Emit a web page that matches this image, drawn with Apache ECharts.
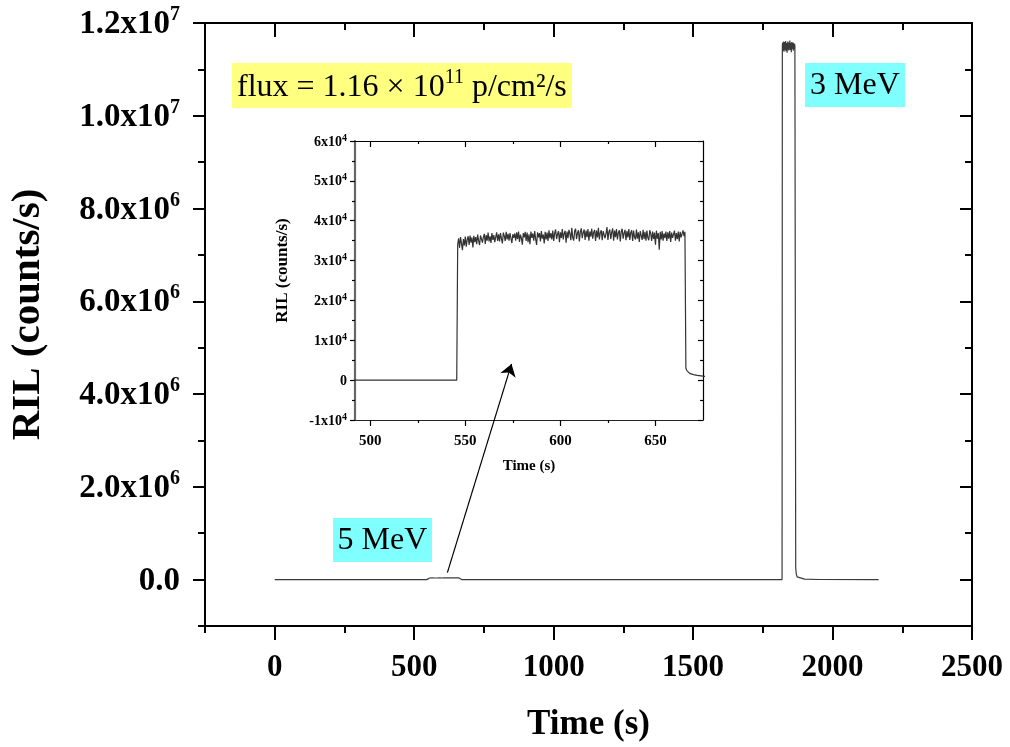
<!DOCTYPE html>
<html>
<head>
<meta charset="utf-8">
<script src="https://cdn.jsdelivr.net/npm/echarts@6/dist/echarts.min.js"></script>
<style>
html,body{margin:0;padding:0;background:#fff;}
#chart{width:1010px;height:747px;}
</style>
</head>
<body>
<div id="chart"></div>
<script>
// ---------- tick values & labels ----------
const mainXMajor = [0, 500, 1000, 1500, 2000, 2500];
const mainXMinor = [-250, 250, 750, 1250, 1750, 2250];
const mainYMajor = [0, 2e6, 4e6, 6e6, 8e6, 1e7, 1.2e7];
const mainYMinor = [-1e6, 1e6, 3e6, 5e6, 7e6, 9e6, 1.1e7];
const mainYLabels = [['0.0', ''], ['2.0x10', '6'], ['4.0x10', '6'], ['6.0x10', '6'], ['8.0x10', '6'], ['1.0x10', '7'], ['1.2x10', '7']];

const insetXMajor = [500, 550, 600, 650];
const insetXMinor = [525, 575, 625];
const insetYMajor = [-1e4, 0, 1e4, 2e4, 3e4, 4e4, 5e4, 6e4];
const insetYMinor = [-5e3, 5e3, 1.5e4, 2.5e4, 3.5e4, 4.5e4, 5.5e4];
const insetYLabels = [['-1x10', '4'], ['0', ''], ['1x10', '4'], ['2x10', '4'], ['3x10', '4'], ['4x10', '4'], ['5x10', '4'], ['6x10', '4']];

// ---------- data ----------
// 5 MeV irradiation, values in 10^3 counts/s
const fiveOnTime = 545.5;          // beam on (last zero point)
const plateauStart = 546;          // first plateau sample time (s)
const plateauStep = 0.5;           // sampling step (s)
const plateauK = [
  34.0, 35.6, 33.2, 35.9, 34.3, 32.6, 35.4, 33.8, 36.0, 33.5, 35.2, 36.1, 33.9, 36.3, 34.5, 35.8, 33.3, 36.2, 34.6, 35.9,
  34.1, 36.5, 35.0, 33.9, 36.3, 36.8, 34.5, 35.9, 36.7, 34.2, 36.4, 35.0, 37.0, 34.8, 36.1, 34.4, 36.9, 35.2, 36.4, 34.6,
  35.9, 37.1, 34.9, 36.6, 34.8, 36.9, 35.5, 34.3, 37.0, 36.2, 34.9, 37.2, 35.3, 36.7, 35.0, 36.9, 35.6, 34.4, 36.6, 35.7,
  36.8, 35.0, 37.1, 35.4, 37.3, 34.7, 36.5, 35.6, 34.0, 36.9, 35.8, 37.2, 34.9, 37.0, 34.6, 36.6, 34.1, 37.3, 35.7, 36.8,
  35.0, 37.4, 35.4, 33.9, 37.1, 35.8, 36.9, 34.8, 37.4, 35.5, 36.5, 34.3, 37.2, 35.3, 37.0, 34.9, 37.6, 35.6, 36.9, 35.3,
  37.5, 34.9, 36.9, 37.8, 35.4, 36.6, 37.4, 34.6, 37.1, 35.7, 37.9, 35.3, 36.8, 37.5, 34.5, 37.3, 35.6, 37.7, 36.8, 35.1,
  38.2, 35.8, 35.0, 37.4, 38.0, 35.4, 36.9, 37.6, 34.8, 37.2, 38.1, 35.6, 37.0, 37.8, 35.2, 37.5, 35.9, 37.9, 35.0, 37.3,
  36.0, 38.0, 35.5, 37.1, 37.7, 34.9, 37.5, 35.8, 38.2, 35.3, 37.0, 37.6, 35.1, 37.4, 37.9, 35.6, 36.8, 38.4, 35.2, 37.2,
  37.8, 35.4, 37.1, 38.1, 35.0, 37.5, 35.9, 37.9, 35.3, 37.0, 37.6, 34.8, 37.3, 38.0, 35.5, 36.9, 37.7, 35.1, 37.4, 35.8,
  37.9, 35.2, 37.0, 37.6, 34.9, 37.5, 35.9, 35.3, 37.8, 35.5, 37.1, 34.7, 37.4, 36.9, 35.2, 37.7, 35.4, 37.2, 35.0, 37.5,
  35.7, 35.1, 37.6, 36.8, 34.9, 37.3, 35.4, 37.0, 34.0, 37.5, 35.5, 36.9, 32.7, 37.2, 35.3, 37.4, 35.0, 36.8, 35.6, 37.3,
  34.9, 37.1, 35.5, 37.4, 34.7, 37.0, 35.7, 35.2, 37.5, 35.0, 36.9, 35.4, 37.3, 34.8, 37.2, 35.8, 35.3, 37.6, 36.1, 37.2
];
const fiveTailTime = [666, 666.5, 667, 668, 670, 672, 675, 680, 690, 700, 720, 750];
const fiveTailK    = [3.0, 2.4, 2.0, 1.7, 1.4, 1.2, 1.0, 0.8, 0.5, 0.3, 0.1, 0];

// 3 MeV irradiation, values in 10^6 counts/s
const peakOnTime = 1819;
const peakStart = 1820;
const peakStep = 1;
const peakM = [
  11.50, 11.58, 11.40, 11.53, 11.45, 11.60, 11.38, 11.55, 11.47, 11.59, 11.42, 11.52,
  11.61, 11.39, 11.54, 11.46, 11.57, 11.36, 11.53, 11.49, 11.60, 11.43, 11.56, 11.41,
  11.58, 11.47, 11.52, 11.62, 11.42, 11.55, 11.45, 11.57, 11.37, 11.51, 11.59, 11.44,
  11.54, 11.48, 11.58, 11.40, 11.56, 11.46, 11.52, 11.43, 11.55, 11.49, 11.46
];
const decayTime = [1868, 1870, 1873, 1880, 1900, 1950, 2165];
const decayV    = [2.5e5, 1.2e5, 6e4, 3e4, 1e4, 3e3, 0];

// ---------- build series ----------
const fivePlateau = plateauK.map((v, i) => [plateauStart + i * plateauStep, v * 1e3]);
const fiveTail = fiveTailTime.map((t, i) => [t, fiveTailK[i] * 1e3]);
const peak = peakM.map((v, i) => [peakStart + i * peakStep, v * 1e6]);
const decay = decayTime.map((t, i) => [t, decayV[i]]);

const mainData = [[0, 0], [fiveOnTime, 0]].concat(fivePlateau, fiveTail, [[peakOnTime, 0]], peak, decay);
const insetData = [[480, 0], [fiveOnTime, 0]].concat(fivePlateau, fiveTail);

// ---------- styling helpers ----------
const FONT = 'Liberation Serif';

function supFormatter(ticks, labels) {
  return function (v) {
    const i = ticks.findIndex(t => Math.abs(t - v) < 1e-6 * Math.max(1, Math.abs(t)));
    if (i < 0) return '';
    const l = labels[i];
    return l[1] ? '{m|' + l[0] + '}{e|' + l[1] + '}' : '{m|' + l[0] + '}';
  };
}

function axisSet(kind, gridIndex, min, max, major, minor, opts) {
  const lineW = opts.lineW, majLen = opts.majLen, minLen = opts.minLen;
  const posA = kind === 'x' ? 'bottom' : 'left';
  const posB = kind === 'x' ? 'top' : 'right';
  const base = {
    type: 'value', gridIndex: gridIndex, min: min, max: max,
    splitLine: { show: false }, minorTick: { show: false }
  };
  const lineStyle = { color: opts.axisColor, width: opts.mainLineW || lineW };
  return [
    Object.assign({}, base, {
      position: posA,
      axisLine: { show: true, onZero: false, lineStyle: lineStyle },
      axisTick: { show: true, customValues: major, length: majLen, lineStyle: { color: '#000', width: lineW } },
      axisLabel: opts.label,
      name: opts.name, nameLocation: 'middle', nameGap: opts.nameGap,
      nameRotate: kind === 'y' ? 90 : 0,
      nameTextStyle: opts.nameStyle
    }),
    Object.assign({}, base, {
      position: posA,
      axisLine: { show: false, onZero: false },
      axisTick: { show: true, customValues: minor, length: minLen, lineStyle: { color: '#000', width: lineW } },
      axisLabel: { show: false }
    }),
    Object.assign({}, base, {
      position: posB,
      axisLine: { show: true, onZero: false, lineStyle: { color: '#000', width: lineW } },
      axisTick: { show: true, inside: true, customValues: major, length: majLen, lineStyle: { color: '#000', width: lineW } },
      axisLabel: { show: false }
    }),
    Object.assign({}, base, {
      position: posB,
      axisLine: { show: false, onZero: false },
      axisTick: { show: true, inside: true, customValues: minor, length: minLen, lineStyle: { color: '#000', width: lineW } },
      axisLabel: { show: false }
    })
  ];
}

const mainX = axisSet('x', 0, -250, 2500, mainXMajor, mainXMinor, {
  lineW: 2, majLen: 14, minLen: 7, axisColor: '#000',
  label: { show: true, customValues: mainXMajor, margin: 26, color: '#000', fontFamily: FONT, fontWeight: 'bold', fontSize: 31,
           formatter: v => String(v) },
  name: 'Time (s)', nameGap: 81,
  nameStyle: { color: '#000', fontFamily: FONT, fontWeight: 'bold', fontSize: 35 }
});
const mainY = axisSet('y', 0, -1e6, 1.2e7, mainYMajor, mainYMinor, {
  lineW: 2, majLen: 12, minLen: 7, axisColor: '#000',
  label: {
    show: true, customValues: mainYMajor, margin: 25, color: '#000',
    formatter: supFormatter(mainYMajor, mainYLabels),
    rich: {
      m: { fontFamily: FONT, fontWeight: 'bold', fontSize: 33, color: '#000', lineHeight: 36, verticalAlign: 'bottom' },
      e: { fontFamily: FONT, fontWeight: 'bold', fontSize: 20, color: '#000', lineHeight: 16, verticalAlign: 'top' }
    }
  },
  name: 'RIL (counts/s)', nameGap: 156,
  nameStyle: { color: '#000', fontFamily: FONT, fontWeight: 'bold', fontSize: 41, padding: [0, 0, 0, 20] }
});

const insetX = axisSet('x', 1, 492, 675, insetXMajor, insetXMinor, {
  lineW: 1.2, majLen: 6, minLen: 3, axisColor: '#222',
  label: { show: true, customValues: insetXMajor, margin: 14, color: '#000', fontFamily: FONT, fontWeight: 'bold', fontSize: 15 },
  name: 'Time (s)', nameGap: 39,
  nameStyle: { color: '#000', fontFamily: FONT, fontWeight: 'bold', fontSize: 15 }
});
const insetY = axisSet('y', 1, -1e4, 6e4, insetYMajor, insetYMinor, {
  lineW: 1.2, mainLineW: 2.2, majLen: 5, minLen: 3, axisColor: '#666',
  label: {
    show: true, customValues: insetYMajor, margin: 8, color: '#000',
    formatter: supFormatter(insetYMajor, insetYLabels),
    rich: {
      m: { fontFamily: FONT, fontWeight: 'bold', fontSize: 14, color: '#000', lineHeight: 16, verticalAlign: 'bottom' },
      e: { fontFamily: FONT, fontWeight: 'bold', fontSize: 10, color: '#000', lineHeight: 8, verticalAlign: 'top' }
    }
  },
  name: 'RIL (counts/s)', nameGap: 64,
  nameStyle: { color: '#000', fontFamily: FONT, fontWeight: 'bold', fontSize: 17, padding: [0, 0, 0, 20] }
});

const chart = echarts.init(document.getElementById('chart'), null, { renderer: 'canvas' });

const option = {
  animation: false,
  backgroundColor: '#fff',
  grid: [
    { left: 202, right: 38, top: 23, bottom: 121 },
    { left: 355, top: 141, width: 348, height: 279 }
  ],
  xAxis: mainX.concat(insetX),
  yAxis: mainY.concat(insetY),
  series: [
    {
      type: 'line', xAxisIndex: 0, yAxisIndex: 0, data: mainData,
      showSymbol: false, symbol: 'none', lineStyle: { color: '#3a3a3a', width: 1.2 },
      markLine: {
        silent: true, animation: false,
        symbol: ['none', 'arrow'], symbolSize: 12,
        label: { show: false },
        emphasis: { disabled: true },
        lineStyle: { color: '#000', width: 1.2, type: 'solid' },
        data: [[{ coord: [619, 1.5e5] }, { coord: [849, 4.65e6] }]]
      }
    },
    {
      type: 'line', xAxisIndex: 4, yAxisIndex: 4, data: insetData,
      showSymbol: false, symbol: 'none', clip: true, lineStyle: { color: '#333', width: 1.2 }
    }
  ],
  graphic: [
    { type: 'rect', shape: { x: 232, y: 63, width: 340, height: 45 }, style: { fill: '#ffff80' }, z: 10 },
    {
      type: 'text', x: 237, y: 86, z: 11,
      style: {
        text: '{a|flux = 1.16 × 10}{b|11}{a| p/cm²/s}',
        verticalAlign: 'middle',
        rich: {
          a: { fontFamily: FONT, fontSize: 32, fill: '#000', lineHeight: 36, verticalAlign: 'bottom' },
          b: { fontFamily: FONT, fontSize: 20, fill: '#000', lineHeight: 14, verticalAlign: 'top' }
        }
      }
    },
    { type: 'rect', shape: { x: 805, y: 63, width: 100, height: 44 }, style: { fill: '#80ffff' }, z: 10 },
    { type: 'text', x: 855, y: 86, z: 11, style: { text: '3 MeV', fontFamily: FONT, fontSize: 32, fill: '#000', align: 'center', verticalAlign: 'middle' } },
    { type: 'rect', shape: { x: 333, y: 518, width: 99, height: 44 }, style: { fill: '#80ffff' }, z: 10 },
    { type: 'text', x: 382.5, y: 541, z: 11, style: { text: '5 MeV', fontFamily: FONT, fontSize: 32, fill: '#000', align: 'center', verticalAlign: 'middle' } }
  ]
};
chart.setOption(option);
</script>
</body>
</html>
